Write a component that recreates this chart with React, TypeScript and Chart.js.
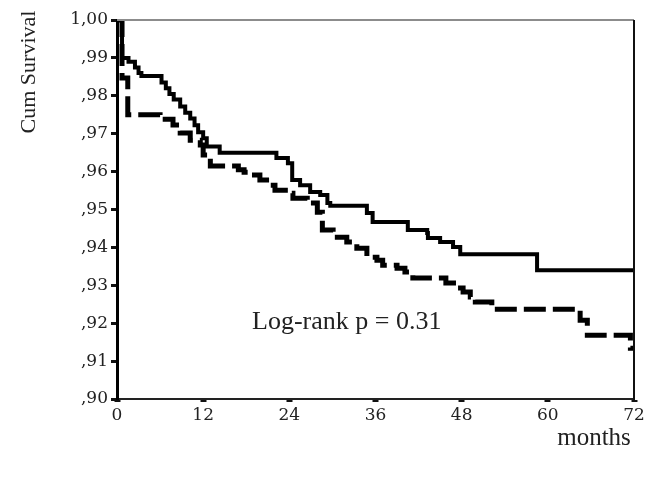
import React, { useEffect, useRef } from 'react';
import { Chart, registerables } from 'chart.js';

Chart.register(...registerables);

// Kaplan-Meier curve 1 (solid)
const solidMonths = [0, 0.7, 1.6, 2.5, 3.0, 3.4, 6.2, 6.8, 7.3, 7.9, 8.8, 9.5, 10.2, 10.8, 11.3, 12.0, 12.5, 14.3, 22.2, 23.8, 24.4, 25.5, 26.9, 28.3, 29.3, 29.7, 34.8, 35.6, 40.5, 43.2, 43.3, 45.0, 46.8, 47.8, 58.5, 72];
const solidSurvival = [1.0, 0.990, 0.989, 0.9875, 0.986, 0.9852, 0.9835, 0.982, 0.9805, 0.979, 0.9772, 0.9755, 0.974, 0.9722, 0.9704, 0.9688, 0.9666, 0.965, 0.9636, 0.9622, 0.9578, 0.9564, 0.9546, 0.9538, 0.9517, 0.951, 0.9491, 0.9467, 0.9446, 0.9438, 0.9425, 0.9414, 0.9401, 0.9382, 0.934, 0.934];

// Kaplan-Meier curve 2 (dashed)
const dashedMonths = [0, 0.7, 1.5, 6.0, 7.8, 8.8, 10.2, 11.6, 12.0, 13.0, 16.9, 17.7, 18.5, 19.9, 21.3, 22.0, 24.1, 24.5, 26.5, 27.9, 28.6, 30.1, 32.0, 33.4, 34.8, 36.2, 37.0, 39.0, 40.1, 41.2, 45.8, 47.4, 48.2, 49.2, 49.9, 52.2, 64.5, 65.5, 71.5, 72];
const dashedSurvival = [1.0, 0.9847, 0.975, 0.9738, 0.9723, 0.9702, 0.9683, 0.967, 0.9644, 0.9615, 0.9605, 0.9598, 0.9591, 0.9578, 0.9564, 0.9551, 0.9543, 0.953, 0.9517, 0.9493, 0.9446, 0.9427, 0.9414, 0.9398, 0.9374, 0.9366, 0.9353, 0.9345, 0.9335, 0.9319, 0.9306, 0.9293, 0.9282, 0.9269, 0.9256, 0.9237, 0.9208, 0.9168, 0.9134, 0.9134];

const xTickValues = [0, 12, 24, 36, 48, 60, 72];
const yTickValues = [0.90, 0.91, 0.92, 0.93, 0.94, 0.95, 0.96, 0.97, 0.98, 0.99, 1.00];
const yTickLabels = [',90', ',91', ',92', ',93', ',94', ',95', ',96', ',97', ',98', ',99', '1,00'];

const yAxisTitle = 'Cum Survival';
const xAxisTitle = 'months';
const annotationText = 'Log-rank p = 0.31';
const annotationAt = { month: 32, survival: 0.9203 };

const decorPlugin = {
  id: 'decor',
  afterDraw(chart: any) {
    const { ctx, chartArea: a, scales } = chart;
    ctx.save();
    ctx.lineWidth = 2;
    ctx.strokeStyle = '#8c8c8c';
    ctx.beginPath();
    ctx.moveTo(a.left, a.top);
    ctx.lineTo(a.right, a.top);
    ctx.stroke();
    ctx.strokeStyle = '#111';
    ctx.beginPath();
    ctx.moveTo(a.right, a.top);
    ctx.lineTo(a.right, a.bottom + 1);
    ctx.stroke();

    ctx.fillStyle = '#222';
    ctx.font = '26px "Liberation Serif"';
    ctx.textAlign = 'center';
    ctx.textBaseline = 'middle';
    ctx.fillText(
      annotationText,
      scales.x.getPixelForValue(annotationAt.month),
      scales.y.getPixelForValue(annotationAt.survival)
    );
    ctx.font = '25px "Liberation Serif"';
    ctx.fillText(xAxisTitle, a.right - 40, a.bottom + 39);
    ctx.font = '22px "Liberation Serif"';
    ctx.translate(29, a.top + 52);
    ctx.rotate(-Math.PI / 2);
    ctx.fillText(yAxisTitle, 0, 0);
    ctx.restore();
  },
};

export default function App() {
  const ref = useRef<HTMLCanvasElement | null>(null);

  useEffect(() => {
    if (!ref.current) return;
    const chart = new Chart(ref.current, {
      type: 'line',
      data: {
        datasets: [
          {
            label: 'solid',
            data: solidMonths.map((m, i) => ({ x: m, y: solidSurvival[i] })),
            stepped: true,
            borderColor: '#000',
            borderWidth: 4,
            pointRadius: 0,
            fill: false,
          },
          {
            label: 'dashed',
            data: dashedMonths.map((m, i) => ({ x: m, y: dashedSurvival[i] })),
            stepped: true,
            borderColor: '#000',
            borderWidth: 5,
            borderDash: [22, 7],
            pointRadius: 0,
            fill: false,
          },
        ],
      },
      options: {
        responsive: false,
        animation: false,
        layout: { padding: { top: 20, right: 26, left: 0, bottom: 0 } },
        plugins: {
          legend: { display: false },
          tooltip: { enabled: false },
        },
        scales: {
          x: {
            type: 'linear',
            min: 0,
            max: 72,
            afterBuildTicks: (s: any) => {
              s.ticks = xTickValues.map((v) => ({ value: v }));
            },
            afterFit: (s: any) => {
              s.height = 78;
            },
            grid: {
              drawOnChartArea: false,
              tickLength: 3,
              tickWidth: 6,
              tickColor: '#111',
            },
            border: { display: true, color: '#222', width: 2 },
            ticks: {
              color: '#222',
              padding: 3,
              maxRotation: 0,
              font: { family: '"DejaVu Serif"', size: 17 },
              callback: (v: any) => String(v),
            },
          },
          y: {
            type: 'linear',
            min: 0.9,
            max: 1.0,
            afterBuildTicks: (s: any) => {
              s.ticks = yTickValues.map((v) => ({ value: v }));
            },
            afterFit: (s: any) => {
              s.width = 117;
            },
            grid: {
              drawOnChartArea: false,
              tickLength: 6,
              tickWidth: 3,
              tickColor: '#111',
            },
            border: { display: true, color: '#000', width: 3 },
            ticks: {
              color: '#222',
              padding: 3,
              font: { family: '"DejaVu Serif"', size: 17 },
              callback: (v: any) => {
                const i = yTickValues.findIndex((t) => Math.abs(t - Number(v)) < 1e-6);
                return i >= 0 ? yTickLabels[i] : '';
              },
            },
          },
        },
      },
      plugins: [decorPlugin],
    });
    return () => chart.destroy();
  }, []);

  return (
    <div style={{ position: 'absolute', left: 0, top: 0, width: 660, height: 477, background: '#fff' }}>
      <canvas ref={ref} width={660} height={477} style={{ display: 'block', width: 660, height: 477 }} />
    </div>
  );
}
